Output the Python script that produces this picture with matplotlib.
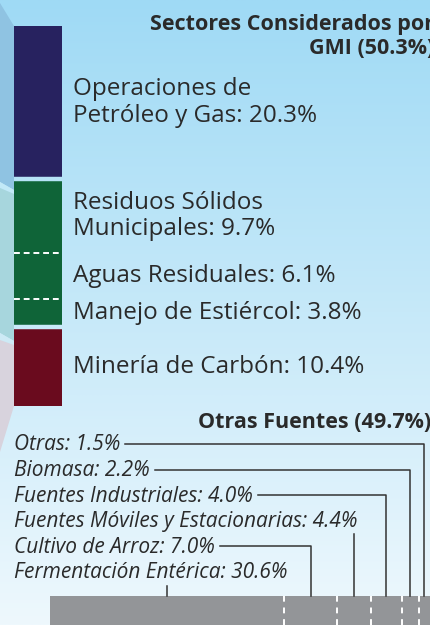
import numpy as np
import matplotlib
matplotlib.use("Agg")
import matplotlib.pyplot as plt
from matplotlib.patches import Polygon
from matplotlib.lines import Line2D
from matplotlib.transforms import blended_transform_factory

# sectors covered by GMI (vertical bar, top to bottom)
gmi_names = ["Operaciones de\nPetróleo y Gas", "Residuos Sólidos\nMunicipales",
             "Aguas Residuales", "Manejo de Estiércol", "Minería de Carbón"]
gmi_values = [20.3, 9.7, 6.1, 3.8, 10.4]
gmi_groups = [0, 1, 1, 1, 2]
gmi_colors = ["#27225f", "#0f6438", "#0f6438", "#0f6438", "#6a0b1e"]
gmi_title = "Sectores Considerados por\nGMI (50.3%)"

# other sources (horizontal bar, left to right)
other_names = ["Fermentación Entérica", "Cultivo de Arroz",
               "Fuentes Móviles y Estacionarias", "Fuentes Industriales",
               "Biomasa", "Otras"]
other_values = [30.6, 7.0, 4.4, 4.0, 2.2, 1.5]
other_title = "Otras Fuentes (49.7%)"

W, H = 430, 625
FONT = "Open Sans"
TXT = "#2a2a2a"
bg_top = np.array([159, 218, 245]) / 255
bg_bot = np.array([238, 248, 253]) / 255


def fx(px):
    return px / W


def fy(py):
    return 1 - py / H


def bg_at(py):
    f = min(max(py / H, 0), 1)
    return tuple(bg_top + (bg_bot - bg_top) * f)


fig = plt.figure(figsize=(W / 100, H / 100), dpi=100)

# background gradient
bg = fig.add_axes([0, 0, 1, 1], zorder=-10)
grad = np.linspace(0, 1, 256)[:, None, None]
bg.imshow(bg_top + (bg_bot - bg_top) * grad, aspect="auto", extent=[0, 1, 0, 1])
bg.axis("off")

# decorative shapes on the left edge
decor = [
    ([(0, 3), (14, 26), (14, 190), (0, 182)], "#8fc3e2"),
    ([(0, 182), (14, 190), (14, 194), (0, 188)], "#c2e9f7"),
    ([(0, 188), (14, 194), (14, 341), (0, 333)], "#a7d6dd"),
    ([(0, 333), (14, 341), (14, 345), (0, 340)], "#cdeaf5"),
    ([(0, 340), (14, 345), (14, 406), (0, 452)], "#d8d3dd"),
]
for pts, c in decor:
    fig.add_artist(Polygon([(fx(x), fy(y)) for x, y in pts], closed=True,
                           facecolor=c, edgecolor="none",
                           transform=fig.transFigure, zorder=-5))

# vertical stacked bar
axv = fig.add_axes([fx(14), fy(406), fx(62) - fx(14), (406 - 26) / H])
cum = np.concatenate([[0], np.cumsum(gmi_values)[:-1]])
axv.bar([0] * len(gmi_values), gmi_values, bottom=cum, width=1,
        color=gmi_colors, linewidth=0)
axv.set_xlim(-0.5, 0.5)
axv.set_ylim(sum(gmi_values), 0)
axv.axis("off")
for i in range(1, len(gmi_values)):
    if gmi_groups[i] != gmi_groups[i - 1]:
        ydisp = axv.transData.transform((0, cum[i]))[1]
        axv.axhline(cum[i], color=bg_at(H - ydisp), lw=3.2)
    else:
        axv.axhline(cum[i], color="white", lw=1.4, dashes=(3, 2))

tr = blended_transform_factory(axv.transAxes, axv.transData)
for name, v, c0 in zip(gmi_names, gmi_values, cum):
    axv.text((73 - 14) / 48, c0 + v / 2, f"{name}: {v:.1f}%", transform=tr,
             ha="left", va="center", fontsize=17.5, family=FONT, color=TXT,
             linespacing=1.15, clip_on=False)

fig.text(fx(434), fy(14), gmi_title, ha="right", va="top", fontsize=15.5,
         family=FONT, weight="bold", color=TXT, multialignment="right",
         linespacing=1.2)

# horizontal stacked bar at the bottom
axh = fig.add_axes([fx(50), 0, fx(430) - fx(50), 29 / H])
left = np.concatenate([[0], np.cumsum(other_values)[:-1]])
axh.barh([0] * len(other_values), other_values, left=left, height=1,
         color="#939598", linewidth=0)
axh.set_xlim(0, sum(other_values))
axh.set_ylim(-0.5, 0.5)
axh.axis("off")
axh.vlines(left[1:], -0.5, 0.5, color="white", lw=1.4, linestyles=(0, (3, 3)))

fig.text(fx(431), fy(422), other_title, ha="right", va="center", fontsize=15.5,
         family=FONT, weight="bold", color=TXT)

# labels, listed top to bottom in reverse order of the bar
labels = []
n = len(other_values)
for k in range(n):
    i = n - 1 - k
    yc = 445 + 25.6 * k
    t = fig.text(fx(14), fy(yc), f"{other_names[i]}: {other_values[i]:.1f}%",
                 ha="left", va="center", fontsize=15, family=FONT,
                 style="italic", color=TXT)
    labels.append((i, yc, t))

fig.canvas.draw()
renderer = fig.canvas.get_renderer()
bar_top = 596
for i, yc, t in labels:
    bb = t.get_window_extent(renderer)
    cx = axh.transData.transform((left[i] + other_values[i] / 2, 0))[0]
    if cx > bb.x1 + 10:
        xs = [bb.x1 + 5, cx, cx]
        ys = [yc - 1, yc - 1, bar_top]
    else:
        xs = [cx, cx]
        ys = [H - bb.y0 + 2, bar_top]
    fig.add_artist(Line2D([fx(x) for x in xs], [fy(y) for y in ys],
                          color="#333333", lw=1.1, transform=fig.transFigure))

fig.savefig("out.png", dpi=100)
